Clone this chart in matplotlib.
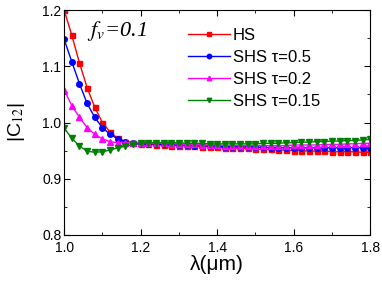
import numpy as np
import matplotlib
matplotlib.use("Agg")
import matplotlib.pyplot as plt
from matplotlib.ticker import MultipleLocator

plt.rcParams["font.family"] = ["Liberation Sans", "DejaVu Sans"]
plt.rcParams["mathtext.fontset"] = "stix"

lam = np.round(np.arange(1.0, 1.8001, 0.02), 2)

hs = [1.200, 1.155, 1.106, 1.062, 1.027, 1.000, 0.983, 0.972, 0.966, 0.963,
      0.961, 0.961, 0.960, 0.960, 0.959, 0.959, 0.958, 0.958, 0.957, 0.957,
      0.956, 0.955, 0.955, 0.954, 0.954, 0.953, 0.952, 0.952, 0.951, 0.951,
      0.950, 0.950, 0.949, 0.949, 0.949, 0.948, 0.948, 0.948, 0.948, 0.947,
      0.947]
shs_05 = [1.148, 1.108, 1.069, 1.034, 1.009, 0.991, 0.979, 0.971, 0.966, 0.964,
          0.963, 0.962, 0.962, 0.961, 0.961, 0.960, 0.960, 0.959, 0.959, 0.958,
          0.958, 0.957, 0.957, 0.957, 0.956, 0.956, 0.956, 0.955, 0.955, 0.955,
          0.955, 0.955, 0.955, 0.955, 0.955, 0.955, 0.955, 0.955, 0.955, 0.955,
          0.955]
shs_02 = [1.058, 1.030, 1.009, 0.991, 0.979, 0.971, 0.966, 0.964, 0.964, 0.964,
          0.964, 0.963, 0.963, 0.963, 0.962, 0.962, 0.961, 0.961, 0.960, 0.960,
          0.960, 0.959, 0.959, 0.959, 0.959, 0.959, 0.959, 0.959, 0.959, 0.959,
          0.960, 0.960, 0.960, 0.960, 0.961, 0.961, 0.961, 0.962, 0.962, 0.963,
          0.963]
shs_015 = [0.990, 0.972, 0.958, 0.949, 0.947, 0.948, 0.951, 0.955, 0.958, 0.961,
           0.963, 0.964, 0.964, 0.964, 0.964, 0.964, 0.963, 0.963, 0.963, 0.962,
           0.962, 0.962, 0.962, 0.962, 0.962, 0.962, 0.963, 0.963, 0.963, 0.964,
           0.964, 0.965, 0.965, 0.966, 0.966, 0.967, 0.967, 0.968, 0.968, 0.969,
           0.970]

series = [
    ("HS", hs, "red", "s", 3.6),
    ("SHS \u03c4=0.5", shs_05, "blue", "o", 4),
    ("SHS \u03c4=0.2", shs_02, "magenta", "^", 4),
    ("SHS \u03c4=0.15", shs_015, "green", "v", 4),
]

fig = plt.figure(figsize=(3.82, 2.81), dpi=100)
ax = fig.add_axes([0.168, 0.164, 0.801, 0.8])

for label, vals, col, mk, ms in series:
    ax.plot(lam, vals, color=col, marker=mk, markersize=ms, lw=1, label=label)

ax.set_xlim(1.0, 1.8)
ax.set_ylim(0.8, 1.2)
ax.xaxis.set_major_locator(MultipleLocator(0.2))
ax.xaxis.set_minor_locator(MultipleLocator(0.1))
ax.yaxis.set_major_locator(MultipleLocator(0.1))
ax.yaxis.set_minor_locator(MultipleLocator(0.05))
ax.xaxis.set_major_formatter(plt.FormatStrFormatter("%.1f"))
ax.yaxis.set_major_formatter(plt.FormatStrFormatter("%.1f"))
ax.tick_params(which="both", direction="in", top=True, right=True, labelsize=10)
ax.tick_params(axis="x", pad=4.5)
ax.tick_params(axis="y", pad=2)
ax.tick_params(which="major", length=4)
ax.tick_params(which="minor", length=2)
for sp in ax.spines.values():
    sp.set_linewidth(0.8)

ax.set_xlabel("\u03bb(\u03bcm)", fontsize=15, labelpad=0)
ax.set_ylabel("|C$_{12}$|", fontsize=14, labelpad=11)

ax.text(0.075, 0.885, "$f_v$=0.1", transform=ax.transAxes, fontsize=16,
        family="Liberation Serif", style="italic")

ax.legend(loc="upper left", bbox_to_anchor=(0.405, 0.92), frameon=False,
          fontsize=12, handlelength=2.5, numpoints=1, markerscale=0.8,
          labelspacing=0.42, handletextpad=0.2, borderaxespad=0, borderpad=0)

fig.savefig("out.png", dpi=100)
